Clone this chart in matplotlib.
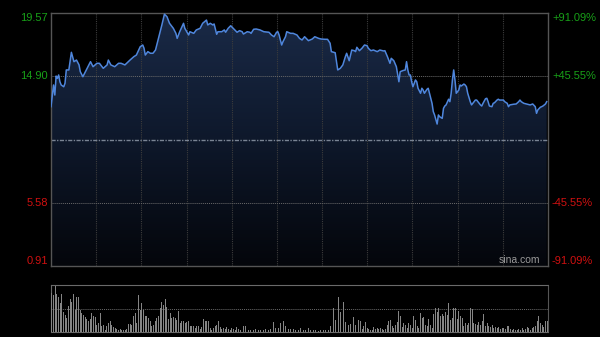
import numpy as np
import matplotlib
matplotlib.use("Agg")
import matplotlib.pyplot as plt
from matplotlib.colors import LinearSegmentedColormap
from matplotlib.patches import Polygon

plt.rcParams['font.family'] = ['Liberation Sans', 'DejaVu Sans']

# intraday price, minutes from open (0..390)
minutes = [
    0, 2, 3, 4, 5, 6, 7, 8, 10, 11, 12, 14, 16, 18, 20, 22, 23, 25, 27, 29,
    31, 33, 36, 38, 41, 44, 45, 47, 50, 53, 55, 58, 62, 65, 67, 70, 72, 73, 74, 76,
    78, 80, 82, 84, 87, 89, 91, 93, 95, 96, 98, 99, 101, 104, 105, 108, 109, 112, 114,
    117, 119, 122, 123, 125, 127, 128, 130, 131, 134, 136, 137, 139, 141, 143, 146, 148, 150, 151, 154,
    156, 157, 159, 161, 164, 167, 171, 173, 175, 177, 178, 179, 181, 182, 184, 185, 188, 190, 193, 195,
    197, 199, 202, 205, 207, 210, 212, 215, 217, 219, 220, 223, 224, 225, 227, 229, 231, 232, 234, 236,
    238, 239, 240, 242, 244, 246, 248, 249, 251, 253, 256, 258, 261, 262, 264, 266, 267, 269, 271, 273,
    274, 276, 278, 279, 280, 281, 282, 283, 284, 286, 287, 288, 290, 291, 292, 293, 295, 296, 297, 299,
    300, 301, 303, 304, 305, 307, 308, 309, 310, 312, 313, 314, 315, 316, 317, 318, 320, 321, 322, 324,
    325, 326, 327, 329, 330, 331, 333, 334, 335, 337, 338, 339, 341, 342, 343, 344, 346, 347, 348, 350,
    351, 352, 354, 355, 356, 358, 359, 360, 363, 365, 367, 368, 369, 371, 373, 376, 378, 380, 381, 382,
    384, 385, 386, 388, 389,
]
prices = [
    12.66, 14.26, 13.52, 14.92, 14.75, 15.00, 14.50, 14.26, 14.13, 14.39, 15.37, 15.37, 16.67, 15.98, 16.10, 15.74, 15.24, 14.87, 15.24, 15.61,
    15.98, 15.61, 15.86, 15.86, 15.49, 15.74, 16.10, 15.74, 15.61, 15.86, 15.86, 15.74, 16.10, 16.35, 16.47, 17.08, 17.21, 16.97, 16.47, 16.72,
    16.60, 16.60, 16.84, 17.58, 18.69, 19.48, 19.30, 18.81, 18.56, 18.44, 18.07, 17.70, 18.19, 18.81, 18.44, 17.95, 18.19, 18.07, 18.32,
    18.44, 18.81, 19.05, 18.69, 18.81, 18.69, 18.76, 18.00, 18.19, 18.19, 18.32, 18.15, 18.44, 18.63, 18.44, 18.15, 18.27, 18.19, 18.02, 18.19,
    18.15, 18.07, 18.37, 18.39, 18.32, 18.19, 18.15, 17.95, 17.82, 18.15, 18.19, 17.95, 17.21, 17.45, 17.82, 18.19, 18.07, 18.07, 17.95, 17.70,
    17.58, 17.82, 17.53, 17.65, 17.82, 17.70, 17.65, 17.63, 17.63, 17.34, 16.72, 16.64, 15.98, 15.37, 15.49, 15.74, 16.35, 16.60, 16.05, 16.84,
    16.79, 16.72, 17.04, 16.79, 16.97, 17.21, 17.16, 16.97, 16.79, 16.84, 16.72, 16.84, 16.77, 16.79, 16.35, 15.86, 16.23, 16.05, 15.61, 14.50,
    15.24, 15.32, 15.37, 15.98, 15.37, 15.00, 15.00, 14.50, 14.13, 14.63, 14.50, 14.02, 13.65, 14.02, 13.89, 13.65, 13.94, 14.02, 13.65, 12.91,
    12.29, 12.05, 11.38, 12.05, 11.92, 11.80, 12.54, 12.71, 12.79, 13.21, 13.03, 13.65, 14.63, 15.37, 14.63, 13.65, 13.89, 14.26, 14.19, 14.33,
    14.26, 14.13, 13.65, 13.03, 12.79, 12.91, 13.15, 13.15, 13.03, 12.79, 12.71, 12.91, 13.25, 13.28, 13.03, 12.71, 12.66, 12.91, 12.95, 13.15,
    13.21, 13.15, 13.15, 13.15, 13.03, 12.91, 12.66, 12.79, 12.84, 12.86, 13.03, 13.15, 13.03, 12.91, 12.86, 12.79, 12.86, 12.66, 12.17, 12.42,
    12.62, 12.66, 12.71, 12.86, 13.03,
]

# per-bar volume (arbitrary units)
volumes = [
    119, 112, 140, 115, 107, 87, 115, 59, 52, 42, 79, 99, 92, 115, 67, 105, 105, 65, 57, 52,
    45, 39, 32, 39, 57, 47, 45, 22, 27, 57, 17, 22, 7, 17, 27, 32, 22, 15, 12, 9,
    7, 9, 7, 5, 7, 9, 25, 25, 22, 47, 57, 27, 112, 67, 87, 67, 47, 49, 42, 32,
    17, 22, 32, 42, 47, 72, 90, 82, 99, 77, 39, 57, 42, 45, 42, 37, 62, 27, 32, 32,
    27, 29, 32, 17, 17, 17, 12, 17, 19, 9, 15, 39, 32, 32, 32, 12, 7, 12, 17, 22,
    32, 15, 9, 12, 9, 15, 9, 7, 12, 9, 7, 15, 9, 7, 7, 17, 19, 9, 7, 7,
    5, 5, 9, 7, 5, 5, 7, 5, 9, 7, 5, 9, 7, 29, 12, 15, 12, 27, 15, 32,
    19, 12, 9, 9, 7, 9, 7, 5, 7,
    12, 7, 5, 7, 9, 12, 7, 5, 7, 7, 5, 4, 5, 4, 5, 7, 5, 7, 17, 22,
    72, 37, 25, 105, 59, 75, 92, 29, 67, 22, 25, 27, 45, 22, 7, 37, 32, 9, 17, 29,
    12, 9, 7, 7, 15, 9, 12, 9, 12, 9, 7, 9, 22, 32, 37, 19, 12, 22, 29, 62,
    47, 15, 27, 22, 12, 27, 22, 12, 47, 37, 17, 12, 57, 42, 45, 22, 17, 39, 22, 12,
    55, 72, 59, 72, 49, 55, 47, 59, 52, 87, 37, 42, 72, 72, 39, 62, 49, 42, 19, 27,
    22, 27, 72, 69, 27, 25, 22, 29, 22, 32, 55, 19, 27, 17, 15, 22, 12, 15, 12, 15,
    9, 12, 12, 9, 17, 19, 9, 7, 9, 5, 7, 9, 7, 12, 7, 9, 15, 12, 7, 12,
    15, 17, 32, 47, 27, 22, 15, 32, 32,
]

prev_close = 10.24
y_labels = [19.57, 14.90, 5.58, 0.91]
pct_labels = ['+91.09%', '+45.55%', '-45.55%', '-91.09%']

bg = '#000000'
frame = '#555555'
fig = plt.figure(figsize=(6, 3.37), dpi=100, facecolor=bg)

# price panel
ax = fig.add_axes([51 / 600, 1 - 266 / 337, 497 / 600, 253 / 337])
ax.set_facecolor(bg)
ax.set_xlim(0, 390)
ax.set_ylim(y_labels[-1], y_labels[0])

t = np.array(minutes)
p = np.array(prices)
verts = np.vstack([np.column_stack([t, p]),
                   [[t[-1], y_labels[-1]], [t[0], y_labels[-1]]]])
clip = Polygon(verts, closed=True, facecolor='none', edgecolor='none')
ax.add_patch(clip)
cmap = LinearSegmentedColormap.from_list('fade', ['#04060b', '#0e182b', '#1a2a47'])
grad = np.linspace(0, 1, 256).reshape(-1, 1)
img = ax.imshow(grad, extent=[0, 390, y_labels[-1], y_labels[0]], origin='lower',
                aspect='auto', cmap=cmap, zorder=1)
img.set_clip_path(clip)

for k in range(1, 11):
    ax.axvline(390 * k / 11, color='#3c3c3c', lw=0.8, ls=(0, (1, 1)), zorder=2)
for v in (y_labels[1], y_labels[2]):
    ax.axhline(v, color='#6a6a6a', lw=0.7, ls=(0, (1, 1)), zorder=2)
ax.axhline(prev_close, color='#7a8494', lw=1.0, ls=(0, (3, 1, 1, 1)), zorder=2)

ax.plot(t, p, color='#4f86dc', lw=1.1, zorder=3)

ax.set_xticks([])
ax.set_yticks([])
for s in ax.spines.values():
    s.set_color(frame)
    s.set_linewidth(1.0)

ytr = ax.get_yaxis_transform()
vas = ['top', 'center', 'center', 'bottom']
for i, (v, lab) in enumerate(zip(y_labels, pct_labels)):
    col = '#18a018' if v > prev_close else '#d01010'
    ax.text(-0.006, v, f'{v:.2f}', transform=ytr, ha='right', va=vas[i],
            color=col, fontsize=8)
    ax.text(1.008, v, lab, transform=ytr, ha='left', va=vas[i],
            color=col, fontsize=8)
ax.text(0.985, 0.005, 'sina.com', transform=ax.transAxes, ha='right', va='bottom',
        color='#9a9a9a', fontsize=7.5)

# volume panel
axv = fig.add_axes([51 / 600, 1 - 332 / 337, 497 / 600, 47 / 337])
axv.set_facecolor(bg)
n = len(volumes)
axv.bar(np.arange(n), volumes, width=0.55, color='#858585', zorder=3)
axv.set_xlim(-0.5, n - 0.5)
axv.set_ylim(0, 142)
axv.axhline(71, color='#6a6a6a', lw=0.7, ls=(0, (1, 1)), zorder=2)
axv.set_xticks([])
axv.set_yticks([])
for side in ('top', 'left', 'bottom'):
    axv.spines[side].set_color('#6a6a6a')
    axv.spines[side].set_linestyle((0, (1, 1)))
axv.spines['right'].set_color(frame)

fig.savefig('out.png', dpi=100, facecolor=bg)
